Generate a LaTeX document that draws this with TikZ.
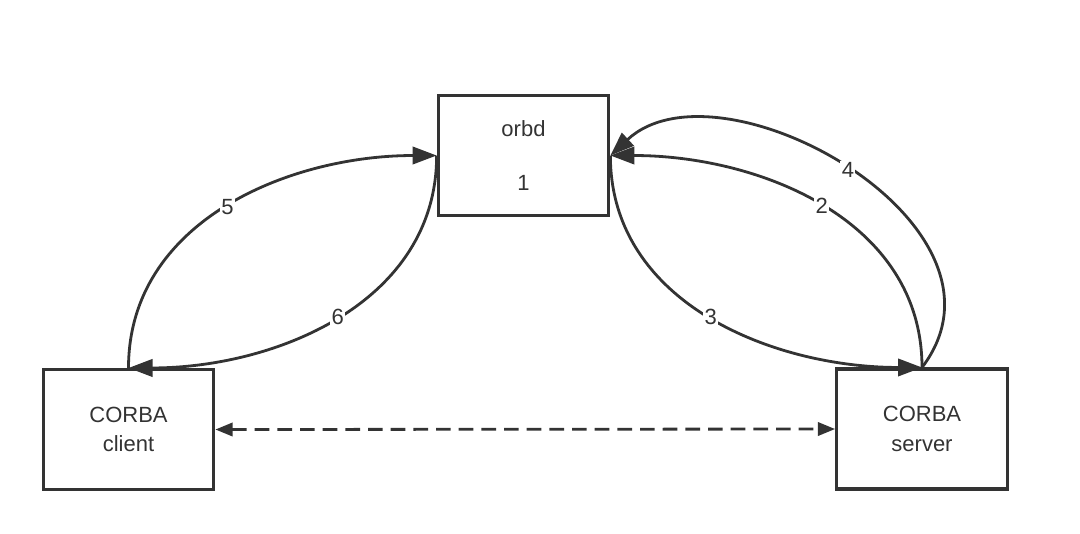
\documentclass[tikz,border=0pt]{standalone}
\usepackage{fontspec}
\setmainfont{Liberation Sans}
\usepackage{tikz}
\usetikzlibrary{arrows.meta,calc,positioning}
\definecolor{inkgray}{RGB}{51,51,51}
\tikzset{
        block/.style = {draw=inkgray, rectangle, line width=2.3pt,
            minimum height=90pt,
            minimum width=128pt,
            align=center, text=inkgray,
            font=\fontsize{16.5}{22}\selectfont},
        arrow/.style={draw=inkgray, line width=2.1pt,
            -{Triangle[length=18pt,width=13pt]}},
        dasharrow/.style={draw=inkgray, line width=2.1pt,
            dash pattern=on 11pt off 6pt,
            {Triangle[length=13pt,width=10pt]}-{Triangle[length=13pt,width=10pt]}},
        numlabel/.style = {fill=white, inner sep=1pt, text=inkgray,
            font=\fontsize{16.5}{18}\selectfont},
    }

\begin{document}
\begin{tikzpicture}[x=0.75pt,y=0.75pt,yscale=-1,xscale=1]
    \useasboundingbox (0,0) rectangle (1080,533);

    % Boxes
    \node [block] (orbd) at (523.5,155.5) {orbd\\[19pt]1};
    \node [block] (client) at (128.5,429.5) {CORBA\\client};
    \node [block] (server) at (922,429) {CORBA\\server};

    % client <-> orbd
    \draw [arrow] (client.north) .. controls +(0,-147) and +(-147,0) .. (orbd.west)
        node [numlabel, pos=0.5] (l5) {5};
    \draw [arrow] (orbd.west) .. controls +(0,147) and +(147,0) .. (client.north)
        node [numlabel, pos=0.5] (l6) {6};

    % server <-> orbd
    \draw [arrow] (orbd.east) .. controls +(0,148) and +(-148,0) .. (server.north)
        node [numlabel, pos=0.5] (l3) {3};
    \draw [arrow] (server.north) .. controls +(0,-148) and +(148,0) .. (orbd.east)
        node [numlabel, pos=0.5] (l2) {2};
    \draw [arrow] (server.north) .. controls +(108,-142) and +(110,-102) .. (orbd.east)
        node [numlabel, pos=0.5] (l4) {4};

    % client <-> server
    \draw [dasharrow] (client.east) -- (server.west);

\end{tikzpicture}
\end{document}
